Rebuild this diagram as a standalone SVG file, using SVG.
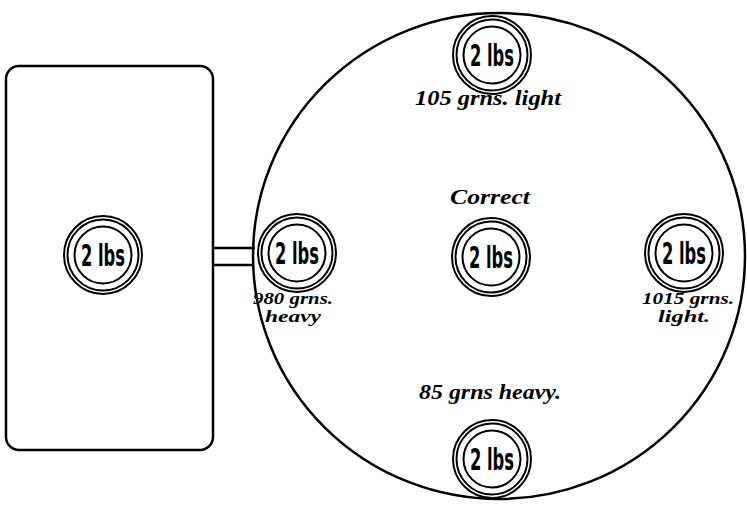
<svg xmlns="http://www.w3.org/2000/svg" width="747" height="508" viewBox="0 0 747 508">
<style>
.ln{fill:none;stroke:#000;stroke-width:2.5}
.ring{fill:none;stroke:#000;stroke-width:2}
.w{font-family:"Liberation Sans Narrow","DejaVu Sans Condensed","Liberation Sans",sans-serif;font-weight:bold;font-size:31px;fill:#000;text-anchor:middle}
.lab{font-family:"Liberation Serif",serif;font-style:italic;font-weight:bold;font-size:20px;fill:#000;text-anchor:middle}
.lab2{font-family:"Liberation Serif",serif;font-style:italic;font-weight:bold;font-size:17px;fill:#000;text-anchor:middle}
</style>
<defs>
<g id="wt">
<circle class="ring" r="39"/>
<circle class="ring" r="35.5"/>
<circle class="ring" r="28.5"/>
<text class="w" y="11" textLength="44" lengthAdjust="spacingAndGlyphs">2 lbs</text>
</g>
</defs>
<rect width="747" height="508" fill="#fff"/>
<g id="box">
<rect class="ln" x="6" y="66" width="207" height="384" rx="13"/>
</g>
<g id="scale">
<ellipse class="ln" cx="499" cy="256" rx="246" ry="243"/>
</g>
<g id="connectors">
<line class="ln" x1="213" y1="248" x2="255" y2="248"/>
<line class="ln" x1="213" y1="265" x2="254" y2="265"/>
</g>
<g id="w-box"><use href="#wt" x="103" y="255"/></g>
<g id="w-left"><use href="#wt" x="297" y="253"/>
<text class="lab2" x="293" y="304" textLength="80" lengthAdjust="spacingAndGlyphs">980 grns.</text>
<text class="lab2" x="293" y="322" textLength="56" lengthAdjust="spacingAndGlyphs">heavy</text></g>
<g id="w-center"><use href="#wt" x="491" y="257"/>
<text class="lab" x="490" y="204" textLength="80" lengthAdjust="spacingAndGlyphs">Correct</text></g>
<g id="w-right"><use href="#wt" x="684" y="253"/>
<text class="lab2" x="688" y="304" textLength="92" lengthAdjust="spacingAndGlyphs">1015 grns.</text>
<text class="lab2" x="684" y="322" textLength="52" lengthAdjust="spacingAndGlyphs">light.</text></g>
<g id="w-top"><use href="#wt" x="492" y="55"/>
<text class="lab" x="488" y="105" textLength="146" lengthAdjust="spacingAndGlyphs">105 grns. light</text></g>
<g id="w-bottom"><use href="#wt" x="492" y="459"/>
<text class="lab" x="490" y="399" textLength="142" lengthAdjust="spacingAndGlyphs">85 grns heavy.</text></g>
</svg>
